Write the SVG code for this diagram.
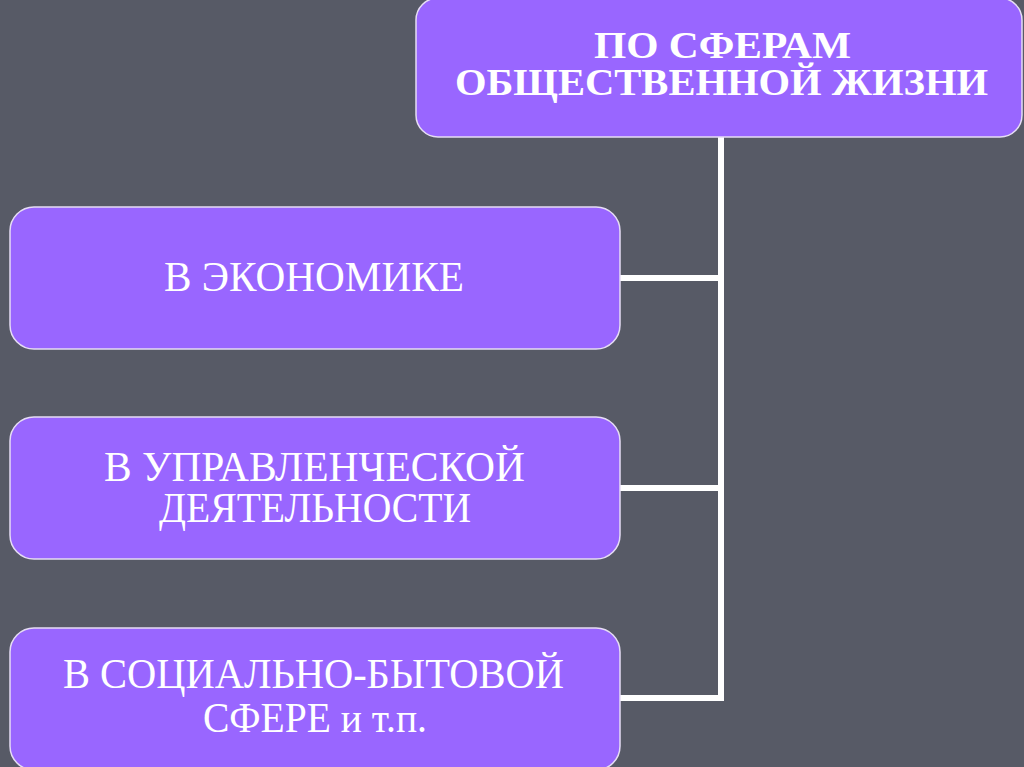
<svg xmlns="http://www.w3.org/2000/svg" width="1024" height="767" viewBox="0 0 1024 767">
<style>
.box{fill:#9966FF;stroke:#E6DDF5;stroke-width:1.5}
.t{font-family:"Liberation Serif","Times New Roman",serif;fill:#FFFFFF;font-size:42px}
.tb{font-family:"Liberation Serif","Times New Roman",serif;fill:#FFFFFF;font-size:37px;font-weight:bold}
.conn{fill:none;stroke:#FFFFFF;stroke-width:6;stroke-linejoin:miter}
</style>
<rect width="1024" height="767" fill="#575A66"/>
<g id="connectors">
<path class="conn" d="M721 137 V698 H620"/>
<path class="conn" d="M721 278 H620"/>
<path class="conn" d="M721 488 H620"/>
</g>
<g id="root">
<rect class="box" x="416" y="-2" width="606" height="139" rx="22"/>
<text class="tb" x="594" y="58" textLength="257" lengthAdjust="spacingAndGlyphs">ПО  СФЕРАМ</text>
<text class="tb" x="455" y="95" textLength="533" lengthAdjust="spacingAndGlyphs">ОБЩЕСТВЕННОЙ  ЖИЗНИ</text>
</g>
<g id="economy">
<rect class="box" x="10" y="207" width="610" height="142" rx="24"/>
<text class="t" x="164" y="291" textLength="300" lengthAdjust="spacingAndGlyphs">В  ЭКОНОМИКЕ</text>
</g>
<g id="management">
<rect class="box" x="10" y="417" width="610" height="142" rx="24"/>
<text class="t" x="104" y="481" textLength="421" lengthAdjust="spacingAndGlyphs">В  УПРАВЛЕНЧЕСКОЙ</text>
<text class="t" x="159" y="522" textLength="312" lengthAdjust="spacingAndGlyphs">ДЕЯТЕЛЬНОСТИ</text>
</g>
<g id="social">
<rect class="box" x="10" y="628" width="610" height="142" rx="24"/>
<text class="t" x="63" y="688" textLength="501" lengthAdjust="spacingAndGlyphs">В  СОЦИАЛЬНО-БЫТОВОЙ</text>
<text class="t" x="203" y="732" textLength="224" lengthAdjust="spacingAndGlyphs">СФЕРЕ и т.п.</text>
</g>
</svg>
